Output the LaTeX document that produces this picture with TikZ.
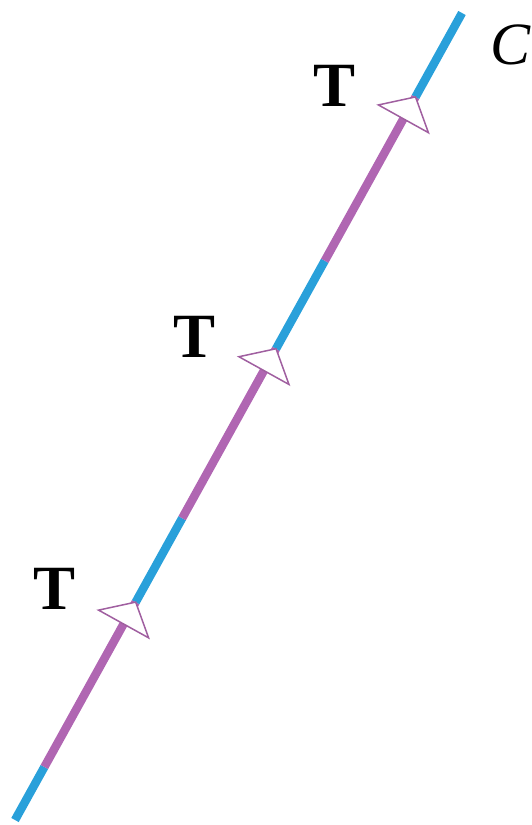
\documentclass[tikz,border=0pt]{standalone}
\usepackage{fontspec}
\setmainfont{Liberation Serif}
\usetikzlibrary{calc}
\definecolor{segblue}{RGB}{41,160,218}
\definecolor{segpurple}{RGB}{176,102,178}
\definecolor{triedge}{RGB}{160,95,160}
\tikzset{
  blueseg/.style={draw=segblue,line width=8.5pt,line cap=butt},
  purpseg/.style={draw=segpurple,line width=8.5pt,line cap=butt},
  arrowtri/.style={draw=triedge,fill=white,line width=1.5pt,line join=miter},
  tlbl/.style={inner sep=0pt,font=\bfseries\fontsize{63}{63}\selectfont},
  clbl/.style={inner sep=0pt,font=\itshape\fontsize{60}{60}\selectfont}
}
\begin{document}
\begin{tikzpicture}[x=1pt,y=-1pt]
\useasboundingbox (0,0) rectangle (532,825);
\coordinate (A) at (15,820);
\coordinate (B) at (462,13);
\coordinate (P1) at ($(A)!0.0657!(B)$);
\coordinate (T1) at ($(A)!0.270!(B)$);
\coordinate (P2) at ($(A)!0.374!(B)$);
\coordinate (T2) at ($(A)!0.584!(B)$);
\coordinate (P3) at ($(A)!0.693!(B)$);
\coordinate (T3) at ($(A)!0.896!(B)$);
\draw[blueseg] (A) -- (P1);
\draw[purpseg] (P1) -- (T1);
\draw[blueseg] (T1) -- (P2);
\draw[purpseg] (P2) -- (T2);
\draw[blueseg] (T2) -- (P3);
\draw[purpseg] (P3) -- (T3);
\draw[blueseg] (T3) -- (B);
\foreach \t in {T1,T2,T3}{
  \coordinate (\t base) at ($(\t)!25pt!(A)$);
  \coordinate (\t l) at ($(\t base)!28.6pt!90:(\t)$);
  \coordinate (\t r) at ($(\t base)!28.6pt!-90:(\t)$);
  \draw[arrowtri] (\t) -- (\t l) -- (\t r) -- cycle;
}
\node[tlbl] (L1) at (55,589) {T};
\node[tlbl] (L2) at (195,337) {T};
\node[tlbl] (L3) at (335,86) {T};
\node[clbl] (LC) at (511,45) {C};
\end{tikzpicture}
\end{document}
